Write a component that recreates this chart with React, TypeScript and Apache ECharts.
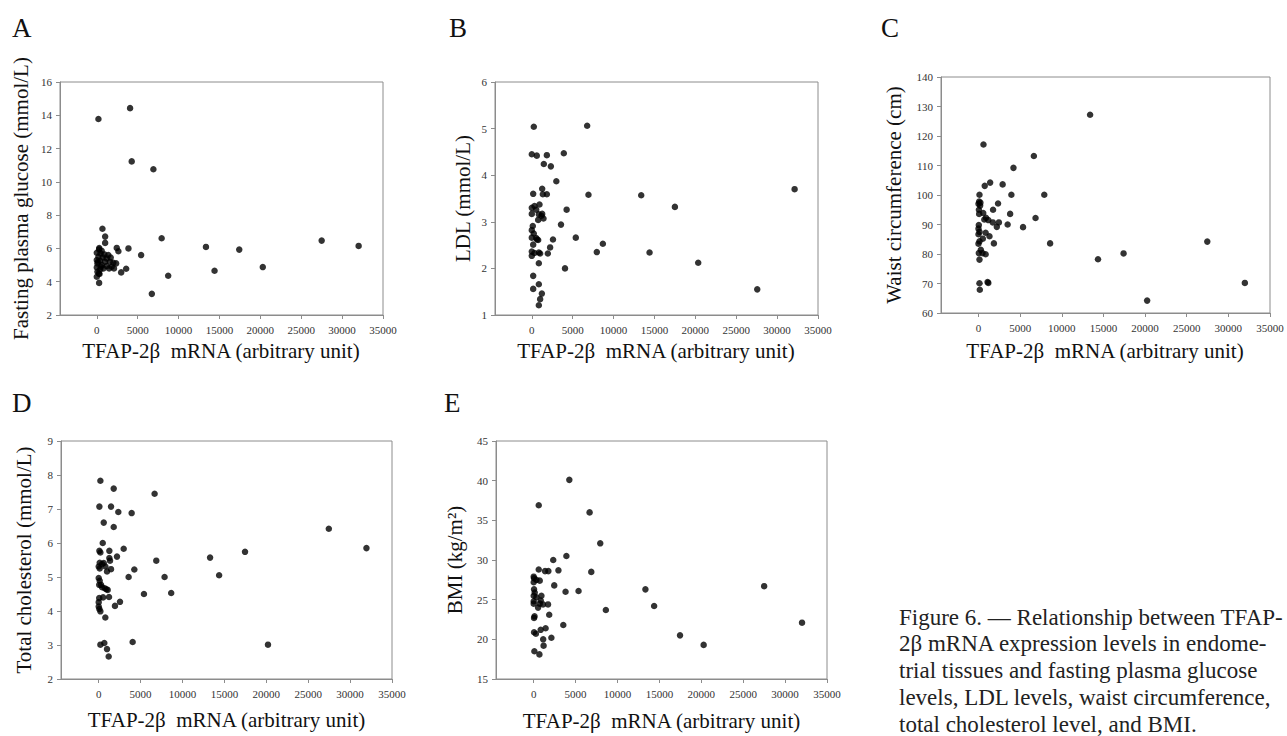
import React, { useEffect, useRef } from "react";
import * as echarts from "echarts";

const X_NAME = "TFAP-2β  mRNA (arbitrary unit)";
const X_TICKS = [0, 5000, 10000, 15000, 20000, 25000, 30000, 35000];

const glucose: number[][] = [
  [200, 13.78], [4070, 14.43], [4270, 11.23], [6920, 10.76], [690, 7.18], [1020, 6.71], [1020, 6.33],
  [7930, 6.61], [3870, 6.0], [2440, 6.03], [2640, 5.83], [13350, 6.09], [17420, 5.93], [27500, 6.47],
  [32020, 6.15], [5420, 5.6], [3590, 4.78], [2980, 4.56], [8730, 4.36], [14400, 4.66], [20300, 4.88],
  [6730, 3.27], [285, 3.93],
  [280, 5.94], [0, 5.74], [450, 5.7], [930, 5.64], [1410, 5.6], [200, 5.5], [720, 5.46], [1200, 5.4],
  [0, 5.3], [410, 5.26], [1010, 5.2], [1610, 5.2], [2020, 5.14], [80, 5.1], [610, 5.0], [1210, 4.94],
  [1820, 4.9], [0, 4.86], [410, 4.74], [810, 4.8], [80, 4.6], [330, 4.46], [0, 4.3], [2100, 4.8],
  [1510, 4.8], [2360, 5.1], [300, 6.02], [600, 5.85], [150, 5.2], [500, 4.9], [1700, 5.45], [250, 4.5],
];

const ldl: number[][] = [
  [245, 5.04], [6770, 5.06], [0, 4.45], [610, 4.42], [1840, 4.43], [3915, 4.47], [1470, 4.24], [2330, 4.19],
  [3000, 3.87], [170, 3.6], [1270, 3.71], [1350, 3.59], [1840, 3.59], [6930, 3.58], [13380, 3.57],
  [17500, 3.32], [32140, 3.7], [4260, 3.26], [3570, 2.94], [5380, 2.66], [2590, 2.62], [8690, 2.53],
  [7950, 2.35], [14400, 2.34], [20350, 2.12], [27570, 1.55], [4060, 2.0], [2240, 2.45], [1960, 2.32],
  [0, 3.3], [330, 3.34], [940, 3.37], [540, 3.26], [0, 3.17], [860, 3.16], [1430, 3.07], [780, 3.04],
  [1190, 3.13], [1270, 3.17], [120, 2.91], [0, 2.82], [240, 2.75], [0, 2.66], [540, 2.65], [780, 2.61],
  [170, 2.51], [650, 2.62], [0, 2.36], [330, 2.33], [860, 2.34], [0, 2.27], [1020, 2.32], [860, 2.11],
  [170, 1.84], [860, 1.66], [170, 1.56], [1230, 1.46], [1020, 1.34], [860, 1.21],
];

const waist: number[][] = [
  [13400, 127.2], [600, 117.1], [6650, 113.2], [4200, 109.2], [1400, 104.2], [2900, 103.6], [750, 103.1],
  [120, 100.1], [3950, 100.1], [7900, 100.1], [80, 97.8], [230, 97.4], [0, 97.0], [200, 96.4], [50, 95.0],
  [1750, 95.0], [2350, 97.1], [3800, 93.6], [80, 93.6], [570, 93.9], [6850, 92.2], [900, 92.3], [700, 91.7],
  [1180, 91.5], [1720, 90.7], [2450, 90.7], [2200, 89.2], [3500, 90.0], [5350, 89.1], [40, 89.8], [0, 88.6],
  [120, 87.5], [0, 86.7], [860, 87.2], [1320, 86.0], [520, 85.2], [120, 84.3], [0, 83.5], [1850, 83.6],
  [8600, 83.6], [27470, 84.2], [40, 80.3], [480, 80.3], [860, 79.9], [280, 81.4], [120, 78.1], [17420, 80.2],
  [14350, 78.2], [120, 70.1], [1180, 70.2], [1090, 70.5], [160, 67.9], [31980, 70.2], [20250, 64.2],
];

const cholesterol: number[][] = [
  [200, 7.83], [1790, 7.6], [6670, 7.45], [80, 7.07], [1470, 7.07], [2340, 6.91], [3930, 6.88], [600, 6.6],
  [1790, 6.47], [27460, 6.42], [480, 6.0], [80, 5.77], [200, 5.72], [1270, 5.77], [2980, 5.83], [2180, 5.6],
  [31950, 5.85], [17460, 5.74], [13290, 5.57], [6870, 5.48], [1270, 5.56], [1350, 5.48], [1470, 5.23],
  [990, 5.16], [4250, 5.22], [3570, 5.0], [7860, 5.0], [14370, 5.05], [5400, 4.5], [8650, 4.53], [2540, 4.27],
  [1940, 4.15], [790, 3.81], [4050, 3.09], [20200, 3.01], [200, 3.01], [670, 3.06], [990, 2.88], [1190, 2.66],
  [0, 5.31], [120, 5.25], [400, 5.38], [600, 5.41], [120, 5.42], [800, 5.31], [0, 4.97], [120, 4.89],
  [60, 4.77], [280, 4.77], [400, 4.7], [720, 4.67], [920, 4.64], [1070, 4.62], [520, 4.4], [60, 4.38],
  [0, 4.26], [0, 4.13], [80, 4.06], [200, 3.99], [1230, 4.41],
];

const bmi: number[][] = [
  [4250, 40.1], [600, 36.9], [6670, 36.0], [7940, 32.1], [3900, 30.5], [2330, 30.0], [600, 28.8], [1350, 28.6],
  [1750, 28.6], [2950, 28.7], [6870, 28.5], [2450, 26.8], [3800, 26.0], [5350, 26.1], [13330, 26.3],
  [27500, 26.7], [8610, 23.7], [14370, 24.2], [1850, 23.1], [3530, 21.8], [32020, 22.1], [17460, 20.5],
  [20280, 19.3], [2110, 20.2], [1130, 20.0], [1180, 19.2], [80, 18.5], [680, 18.1], [830, 21.2], [1420, 21.4],
  [40, 20.9], [260, 20.7], [100, 22.9], [40, 22.7], [0, 27.9], [40, 27.7], [320, 27.5], [720, 27.4],
  [0, 27.2], [40, 26.3], [120, 25.9], [0, 25.5], [320, 25.3], [0, 24.8], [0, 24.5], [920, 25.5], [840, 24.9],
  [720, 24.5], [520, 24.0], [1110, 24.4], [1710, 24.4],
];

const panelLetters = ["A", "B", "C", "D", "E"];
const yNames = [
  "Fasting plasma glucose (mmol/L)",
  "LDL (mmol/L)",
  "Waist circumference (cm)",
  "Total cholesterol (mmol/L)",
  "BMI (kg/m²)",
];
const yMins = [2, 1, 60, 2, 15];
const yMaxs = [16, 6, 140, 9, 45];
const yIntervals = [2, 1, 10, 1, 5];

const captionLines = [
  "Figure 6. — Relationship between TFAP-",
  "2β mRNA expression levels in endome-",
  "trial tissues and fasting plasma glucose",
  "levels, LDL levels, waist circumference,",
  "total cholesterol level, and BMI.",
];

const SERIF = "Liberation Serif";
const FRAME = "#8c8c8c";

function measure(text: string, font: string): number {
  const c = document.createElement("canvas");
  const ctx = c.getContext("2d");
  if (!ctx) return text.length * 9;
  ctx.font = font;
  return ctx.measureText(text).width;
}

export default function App() {
  const ref = useRef<HTMLDivElement>(null);
  useEffect(() => {
    if (!ref.current) return;
    const chart = echarts.init(ref.current, undefined, { renderer: "svg" });
    const datasets = [glucose, ldl, waist, cholesterol, bmi];
    const grids = [
      { left: 60, top: 82, width: 323, height: 233 },
      { left: 495, top: 82, width: 323, height: 233 },
      { left: 941, top: 77, width: 329, height: 236 },
      { left: 61, top: 441, width: 331, height: 238 },
      { left: 496, top: 441, width: 331, height: 238 },
    ];
    const nameGaps = [29, 22, 37, 27, 31];
    const xTitleY = [351, 351, 351, 720, 721];
    const letterPos = [
      [12, 28], [449, 28], [881, 28], [12, 403], [444, 403],
    ];
    const titleFont = `21px ${SERIF}`;
    const titleW = measure(X_NAME, titleFont);

    const option: any = {
      animation: false,
      backgroundColor: "#ffffff",
      textStyle: { fontFamily: SERIF },
      grid: grids.map((g) => ({ ...g, show: true, borderColor: FRAME, borderWidth: 1, containLabel: false })),
      xAxis: grids.map((_, i) => ({
        gridIndex: i,
        type: "value",
        min: -4500,
        max: 35000,
        axisLine: { show: true, onZero: false, lineStyle: { color: FRAME, width: 1 } },
        axisTick: { show: true, length: 4, inside: false, customValues: X_TICKS, lineStyle: { color: FRAME } },
        axisLabel: {
          customValues: X_TICKS,
          formatter: (v: number) => String(v),
          fontSize: 11,
          fontFamily: SERIF,
          color: "#333",
          margin: 9,
        },
        splitLine: { show: false },
      })),
      yAxis: grids.map((_, i) => ({
        gridIndex: i,
        type: "value",
        min: yMins[i],
        max: yMaxs[i],
        interval: yIntervals[i],
        axisLine: { show: true, onZero: false, lineStyle: { color: FRAME, width: 1 } },
        axisTick: { show: true, length: 4, inside: false, lineStyle: { color: FRAME } },
        axisLabel: { fontSize: 11, fontFamily: SERIF, color: "#333", margin: 8 },
        splitLine: { show: false },
        name: yNames[i],
        nameLocation: "middle",
        nameGap: nameGaps[i],
        nameTextStyle: { fontSize: 21, fontFamily: SERIF, color: "#111" },
      })),
      series: datasets.map((d, i) => ({
        type: "scatter",
        xAxisIndex: i,
        yAxisIndex: i,
        data: d,
        symbol: "circle",
        symbolSize: 6.5,
        itemStyle: { color: "#000" },
      })),
      graphic: [
        ...panelLetters.map((t, i) => ({
          type: "text",
          x: letterPos[i][0],
          y: letterPos[i][1],
          style: { text: t, font: `27px ${SERIF}`, fill: "#111", textVerticalAlign: "middle" },
        })),
        ...grids.map((g, i) => ({
          type: "text",
          x: i < 3 ? g.left + g.width / 2 - titleW / 2 : g.left + g.width / 2,
          y: xTitleY[i],
          style: {
            text: X_NAME,
            font: titleFont,
            fill: "#111",
            textAlign: i < 3 ? "left" : "center",
            textVerticalAlign: "middle",
          },
        })),
        ...captionLines.map((t, i) => ({
          type: "text",
          x: 899,
          y: 617 + i * 26.75,
          style: { text: t, font: `23px ${SERIF}`, fill: "#222", textVerticalAlign: "middle" },
        })),
      ],
    };
    chart.setOption(option);
    return () => chart.dispose();
  }, []);
  return (
    <div
      ref={ref}
      style={{ position: "absolute", left: 0, top: 0, width: 1287, height: 736, background: "#fff" }}
    />
  );
}
